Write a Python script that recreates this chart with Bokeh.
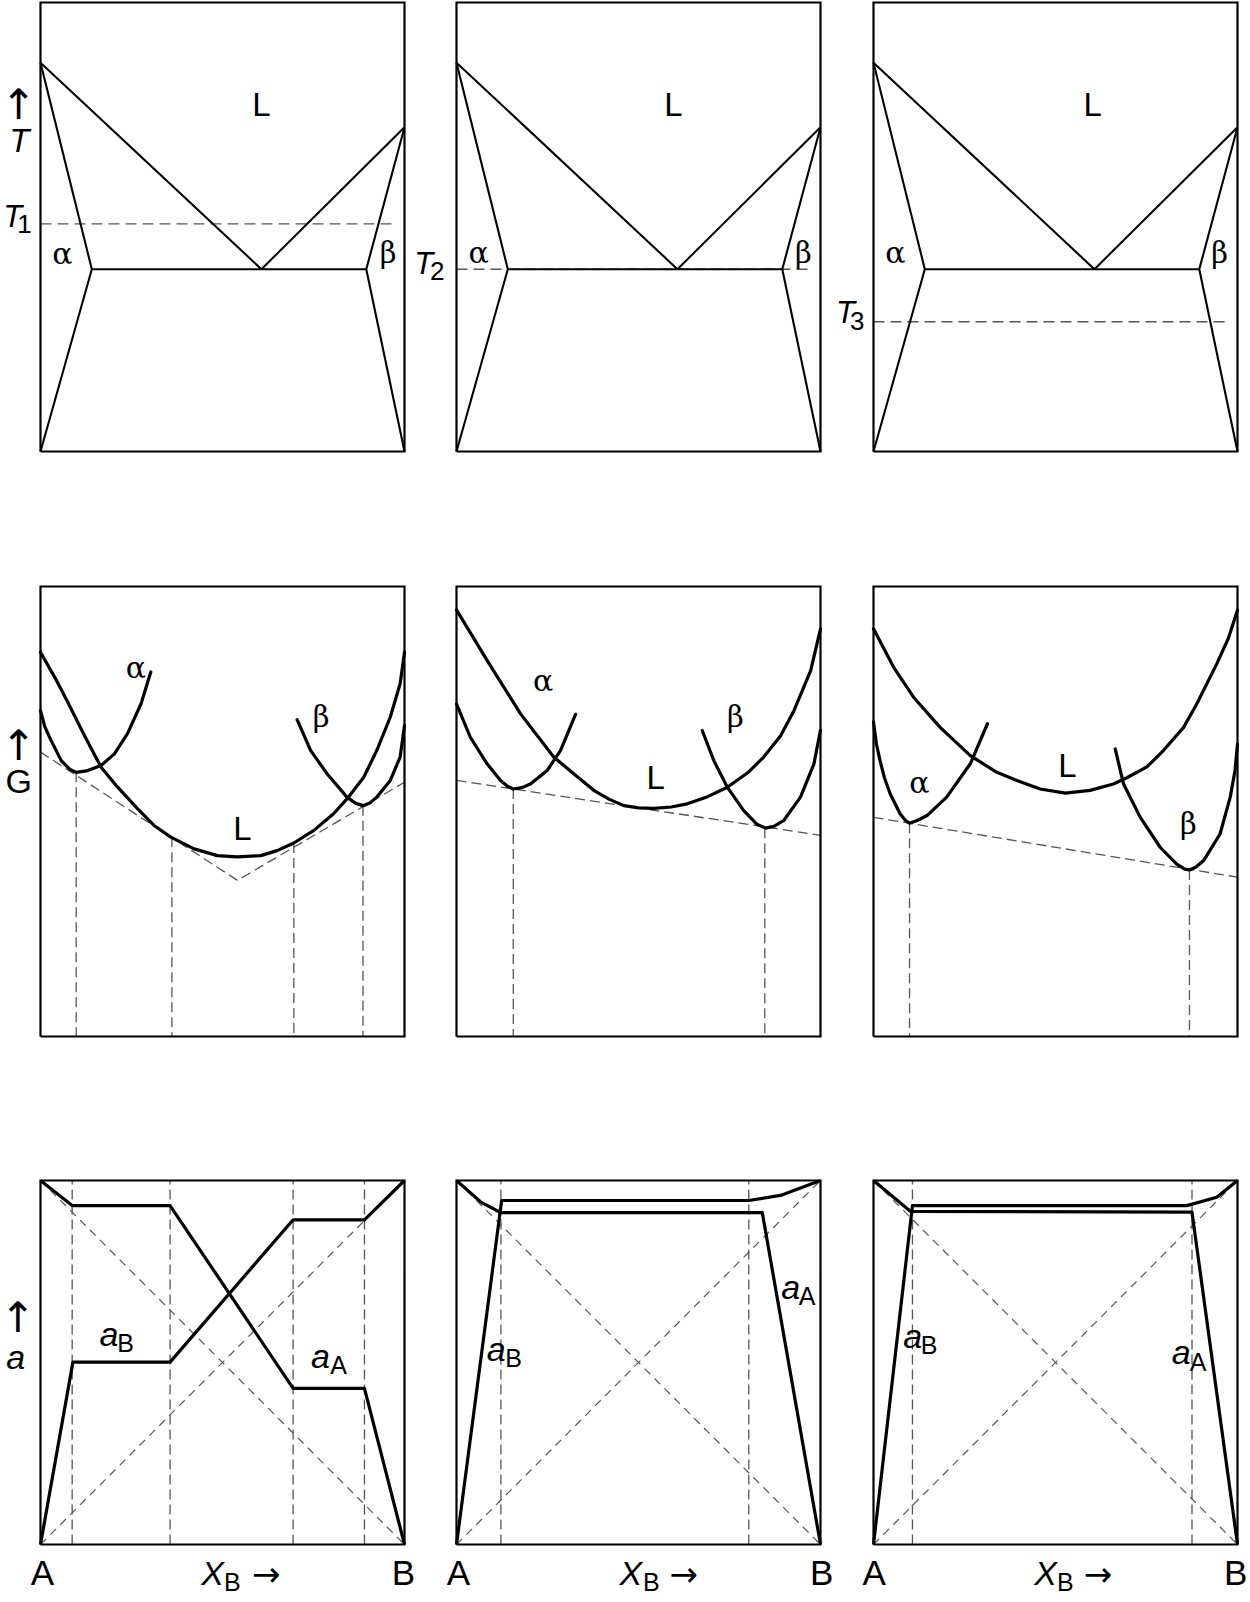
from bokeh.plotting import figure
from bokeh.layouts import column, row
from bokeh.models import Range1d
from bokeh.core.properties import value
from bokeh.embed import file_html
from bokeh.resources import INLINE

# ------------------------------------------------------------------
# DATA (composition X_B 0..1 on x, property 0..1 on y, per panel box)
# ------------------------------------------------------------------
box_x = [0, 1, 1, 0, 0]
box_y = [0, 0, 1, 1, 0]

# --- top row: eutectic phase diagram (same in all three panels)
liq_x = [0.0, 0.607, 1.0]
liq_y = [0.866, 0.406, 0.722]
alpha_bound_x = [0.0, 0.141, 0.0]      # solidus + solvus of alpha
alpha_bound_y = [0.866, 0.406, 0.0]
beta_bound_x = [1.0, 0.895, 1.0]       # solidus + solvus of beta
beta_bound_y = [0.722, 0.406, 0.0]
eut_x = [0.141, 0.895]
eut_y = [0.406, 0.406]
T_levels = [0.507, 0.406, 0.289]
T_names = ["1", "2", "3"]
T_dash_end = [0.98, 0.98, 0.975]

# --- middle row: Gibbs free-energy curves
L1_x = [0.0, 0.040, 0.075, 0.120, 0.166, 0.212, 0.267, 0.312, 0.358, 0.422, 0.486, 0.541, 0.605, 0.650, 0.696, 0.751, 0.805, 0.842, 0.888, 0.924, 0.961, 0.988, 1.0]
L1_y = [0.854, 0.797, 0.743, 0.670, 0.599, 0.554, 0.506, 0.469, 0.443, 0.417, 0.402, 0.399, 0.402, 0.413, 0.430, 0.458, 0.495, 0.528, 0.576, 0.636, 0.710, 0.784, 0.854]
A1_x = [0.0, 0.012, 0.029, 0.057, 0.080, 0.098, 0.130, 0.166, 0.203, 0.239, 0.276, 0.303]
A1_y = [0.724, 0.688, 0.658, 0.613, 0.594, 0.587, 0.591, 0.602, 0.628, 0.673, 0.739, 0.810]
B1_x = [0.705, 0.742, 0.787, 0.842, 0.866, 0.886, 0.905, 0.924, 0.961, 0.988, 1.0]
B1_y = [0.704, 0.636, 0.584, 0.532, 0.518, 0.513, 0.519, 0.532, 0.569, 0.621, 0.691]
tan1_x = [0.0, 0.541, 1.0]
tan1_y = [0.632, 0.347, 0.565]
v1_x = [0.098, 0.361, 0.696, 0.886]
v1_top = [0.587, 0.443, 0.430, 0.513]

L2_x = [0.0, 0.084, 0.176, 0.267, 0.322, 0.377, 0.420, 0.460, 0.500, 0.542, 0.590, 0.634, 0.690, 0.744, 0.800, 0.844, 0.890, 0.927, 0.973, 1.0]
L2_y = [0.948, 0.836, 0.717, 0.621, 0.584, 0.547, 0.527, 0.513, 0.508, 0.507, 0.510, 0.517, 0.533, 0.554, 0.586, 0.621, 0.668, 0.724, 0.813, 0.906]
A2_x = [0.0, 0.038, 0.084, 0.121, 0.140, 0.156, 0.180, 0.203, 0.249, 0.286, 0.327]
A2_y = [0.739, 0.665, 0.606, 0.569, 0.556, 0.550, 0.553, 0.561, 0.591, 0.636, 0.716]
B2_x = [0.675, 0.707, 0.744, 0.789, 0.825, 0.849, 0.872, 0.899, 0.945, 0.982, 1.0]
B2_y = [0.680, 0.613, 0.554, 0.502, 0.472, 0.463, 0.467, 0.480, 0.532, 0.606, 0.681]
tan2_x = [0.0, 1.0]
tan2_y = [0.569, 0.447]
v2_x = [0.156, 0.847]
v2_top = [0.550, 0.463]

L3_x = [0.0, 0.055, 0.110, 0.183, 0.266, 0.339, 0.394, 0.458, 0.527, 0.595, 0.659, 0.696, 0.751, 0.797, 0.852, 0.888, 0.943, 0.975, 1.0]
L3_y = [0.906, 0.821, 0.754, 0.687, 0.624, 0.587, 0.569, 0.550, 0.541, 0.547, 0.561, 0.575, 0.599, 0.636, 0.687, 0.739, 0.828, 0.885, 0.948]
A3_x = [0.0, 0.008, 0.018, 0.030, 0.046, 0.073, 0.088, 0.099, 0.120, 0.147, 0.201, 0.266, 0.313]
A3_y = [0.699, 0.650, 0.613, 0.575, 0.539, 0.495, 0.480, 0.474, 0.480, 0.491, 0.532, 0.606, 0.695]
B3_x = [0.664, 0.687, 0.733, 0.788, 0.833, 0.855, 0.868, 0.885, 0.907, 0.952, 0.980, 0.993, 1.0]
B3_y = [0.639, 0.561, 0.487, 0.420, 0.383, 0.372, 0.370, 0.376, 0.391, 0.450, 0.532, 0.590, 0.650]
tan3_x = [0.0, 1.0]
tan3_y = [0.487, 0.354]
v3_x = [0.099, 0.868]
v3_top = [0.474, 0.370]

# --- bottom row: activities
raoult_x = [0.0, 1.0]
raoultA_y = [1.0, 0.0]
raoultB_y = [0.0, 1.0]

aA1_x = [0.0, 0.087, 0.356, 0.694, 0.890, 1.0]
aA1_y = [1.0, 0.931, 0.931, 0.429, 0.429, 0.0]
aB1_x = [0.0, 0.089, 0.356, 0.694, 0.890, 1.0]
aB1_y = [0.0, 0.501, 0.501, 0.892, 0.892, 1.0]
w1_x = [0.087, 0.356, 0.694, 0.890]

aA2_x = [0.0, 0.068, 0.121, 0.840, 1.0]
aA2_y = [1.0, 0.940, 0.912, 0.912, 0.0]
aB2_x = [0.0, 0.124, 0.803, 0.890, 1.0]
aB2_y = [0.0, 0.945, 0.945, 0.959, 1.0]
w2_x = [0.122, 0.803]

aA3_x = [0.0, 0.102, 0.875, 1.0]
aA3_y = [1.0, 0.915, 0.913, 0.0]
aB3_x = [0.0, 0.107, 0.861, 0.943, 1.0]
aB3_y = [0.0, 0.931, 0.931, 0.954, 1.0]
w3_x = [0.107, 0.875]

# label positions (in panel box units)
top_L_pos = [(0.607, 0.773), (0.596, 0.773), (0.602, 0.773)]
top_alpha_pos = [(0.060, 0.441), (0.061, 0.443), (0.060, 0.443)]
top_beta_pos = [(0.955, 0.443), (0.953, 0.443), (0.951, 0.443)]
T_main_pos = [(-0.076, 0.523), (-0.090, 0.419), (-0.077, 0.310)]
T_sub_pos = [(-0.044, 0.506), (-0.053, 0.403), (-0.045, 0.290)]

mid_alpha_pos = [(0.262, 0.821), (0.238, 0.791), (0.126, 0.565)]
mid_beta_pos = [(0.771, 0.710), (0.766, 0.710), (0.865, 0.473)]
mid_L_pos = [(0.555, 0.462), (0.547, 0.576), (0.533, 0.602)]

aB_main_pos = [(0.188, 0.579), (0.109, 0.538), (0.108, 0.574)]
aB_sub_pos = [(0.234, 0.553), (0.157, 0.513), (0.153, 0.547)]
aA_main_pos = [(0.769, 0.519), (0.918, 0.707), (0.845, 0.528)]
aA_sub_pos = [(0.819, 0.493), (0.963, 0.682), (0.892, 0.501)]
A_lab_x = [0.005, 0.005, 0.002]
B_lab_x = [0.997, 1.003, 1.027]
X_lab_x = [0.473, 0.479, 0.473]
Xsub_lab_x = [0.527, 0.535, 0.527]
arrow_lab_x = [0.620, 0.624, 0.617]
bottom_lab_y = -0.077
bottom_sub_y = -0.102

# left-hand axis captions: (x, y) in box units of the first column
T_arrow_pos = (-0.060, 0.773)
T_cap_pos = (-0.058, 0.693)
G_arrow_pos = (-0.060, 0.647)
G_cap_pos = (-0.060, 0.567)
a_arrow_pos = (-0.062, 0.624)
a_cap_pos = (-0.068, 0.514)

# ------------------------------------------------------------------
# LAYOUT (page pixels)
# ------------------------------------------------------------------
BOX_X = [(40, 404), (456, 820), (873, 1237)]
SPLITS = [[0, 410, 830, 1248], [0, 410, 830, 1248], [0, 420, 838, 1248]]
ROW_Y = [0, 515, 1110, 1600]
BOX_Y = [(2, 451), (586, 1036), (1180, 1544)]

SANS = "Liberation Sans"
SERIF = "DejaVu Serif"
ARROW = "DejaVu Sans"
DASH_C = "#555555"


def make_fig(c, r):
    x0, x1 = SPLITS[r][c], SPLITS[r][c + 1]
    y0, y1 = ROW_Y[r], ROW_Y[r + 1]
    w, h = x1 - x0, y1 - y0
    bl, br = BOX_X[c][0] - x0, BOX_X[c][1] - x0
    bt, bb = BOX_Y[r][0] - y0, BOX_Y[r][1] - y0
    sx = br - bl
    sy = bb - bt
    p = figure(width=w, height=h, output_backend="svg", toolbar_location=None,
               x_range=Range1d(-bl / sx, (w - bl) / sx),
               y_range=Range1d(-(h - bb) / sy, 1 + bt / sy),
               x_axis_type=None, y_axis_type=None,
               min_border=0, outline_line_color=None,
               background_fill_color="white", border_fill_color="white")
    p.grid.visible = False
    return p


def txt(p, x, y, s, size, font=SANS, style="normal", align="center"):
    p.text(x=[x], y=[y], text=[s], text_font=value(font),
           text_font_size=value(f"{size}px"), text_font_style=value(style),
           text_align=value(align), text_baseline=value("middle"),
           text_color="black")


def box(p):
    p.line(box_x, box_y, line_color="black", line_width=2.2, line_join="miter")


figs = [[None] * 3 for _ in range(3)]

# ---- top row
for c in range(3):
    p = make_fig(c, 0)
    p.line([0, T_dash_end[c]], [T_levels[c], T_levels[c]], line_color=DASH_C,
           line_width=1.4, line_dash="11 6")
    p.line(liq_x, liq_y, line_color="black", line_width=2.1)
    p.line(alpha_bound_x, alpha_bound_y, line_color="black", line_width=2.1)
    p.line(beta_bound_x, beta_bound_y, line_color="black", line_width=2.1)
    p.line(eut_x, eut_y, line_color="black", line_width=2.1)
    box(p)
    txt(p, *top_L_pos[c], "L", 33)
    txt(p, *top_alpha_pos[c], "α", 30, SERIF)
    txt(p, *top_beta_pos[c], "β", 29, SERIF)
    txt(p, *T_main_pos[c], "T", 31, style="italic")
    txt(p, *T_sub_pos[c], T_names[c], 26)
    if c == 0:
        txt(p, *T_arrow_pos, "↑", 42, ARROW)
        txt(p, *T_cap_pos, "T", 33, style="italic")
    figs[0][c] = p

# ---- middle row
mid_sets = [
    (L1_x, L1_y, A1_x, A1_y, B1_x, B1_y, tan1_x, tan1_y, v1_x, v1_top),
    (L2_x, L2_y, A2_x, A2_y, B2_x, B2_y, tan2_x, tan2_y, v2_x, v2_top),
    (L3_x, L3_y, A3_x, A3_y, B3_x, B3_y, tan3_x, tan3_y, v3_x, v3_top),
]
for c in range(3):
    Lx, Ly, Ax, Ay, Bx, By, tx, ty, vx, vt = mid_sets[c]
    p = make_fig(c, 1)
    p.line(tx, ty, line_color=DASH_C, line_width=1.3, line_dash="10 5")
    p.segment(x0=vx, y0=vt, x1=vx, y1=[0] * len(vx), line_color=DASH_C,
              line_width=1.3, line_dash="10 5")
    for xs, ys in ((Lx, Ly), (Ax, Ay), (Bx, By)):
        p.line(xs, ys, line_color="black", line_width=3.2, line_join="round",
               line_cap="round")
    box(p)
    txt(p, *mid_alpha_pos[c], "α", 30, SERIF)
    txt(p, *mid_beta_pos[c], "β", 29, SERIF)
    txt(p, *mid_L_pos[c], "L", 33)
    if c == 0:
        txt(p, *G_arrow_pos, "↑", 42, ARROW)
        txt(p, *G_cap_pos, "G", 34)
    figs[1][c] = p

# ---- bottom row
bot_sets = [
    (aA1_x, aA1_y, aB1_x, aB1_y, w1_x),
    (aA2_x, aA2_y, aB2_x, aB2_y, w2_x),
    (aA3_x, aA3_y, aB3_x, aB3_y, w3_x),
]
for c in range(3):
    aAx, aAy, aBx, aBy, wx = bot_sets[c]
    p = make_fig(c, 2)
    p.line(raoult_x, raoultA_y, line_color=DASH_C, line_width=1.2, line_dash="8 6")
    p.line(raoult_x, raoultB_y, line_color=DASH_C, line_width=1.2, line_dash="8 6")
    p.segment(x0=wx, y0=[0] * len(wx), x1=wx, y1=[1] * len(wx), line_color=DASH_C,
              line_width=1.3, line_dash="10 5")
    p.line(aAx, aAy, line_color="black", line_width=3.2, line_join="round")
    p.line(aBx, aBy, line_color="black", line_width=3.2, line_join="round")
    box(p)
    txt(p, *aB_main_pos[c], "a", 34, style="italic")
    txt(p, *aB_sub_pos[c], "B", 25)
    txt(p, *aA_main_pos[c], "a", 34, style="italic")
    txt(p, *aA_sub_pos[c], "A", 25)
    txt(p, A_lab_x[c], bottom_lab_y, "A", 35)
    if c == 2:
        txt(p, B_lab_x[c], bottom_lab_y, "B", 35, align="right")
    else:
        txt(p, B_lab_x[c], bottom_lab_y, "B", 35)
    txt(p, X_lab_x[c], bottom_lab_y, "X", 34, style="italic")
    txt(p, Xsub_lab_x[c], bottom_sub_y, "B", 25)
    txt(p, arrow_lab_x[c], bottom_lab_y - 0.004, "→", 34, ARROW)
    if c == 0:
        txt(p, *a_arrow_pos, "↑", 42, ARROW)
        txt(p, *a_cap_pos, "a", 34, style="italic")
    figs[2][c] = p

layout = column(*[row(*figs[r]) for r in range(3)])

open("out.html", "w").write(file_html(layout, INLINE))
